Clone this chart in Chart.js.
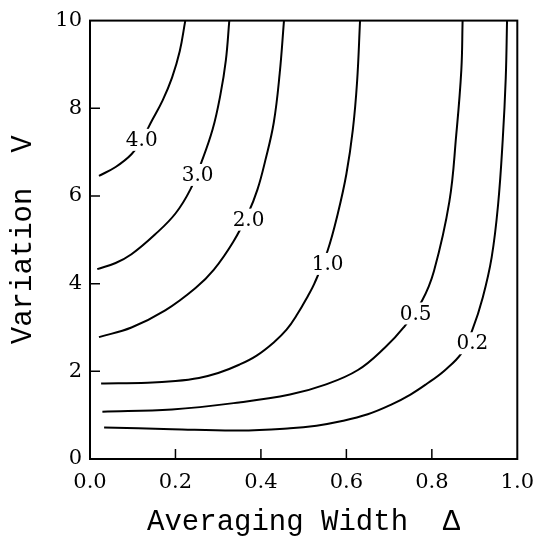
<!DOCTYPE html>
<html>
<head>
<meta charset="utf-8">
<script src="https://cdn.jsdelivr.net/npm/chart.js@4/dist/chart.umd.min.js"></script>
<style>
  html, body { margin: 0; padding: 0; background: #fff; }
  #wrap { width: 545px; height: 540px; }
</style>
</head>
<body>
<div id="wrap"><canvas id="contour"></canvas></div>
<script>
// contour levels and their traced curves (x = averaging width, y = variation)
var levels = ['4.0', '3.0', '2.0', '1.0', '0.5', '0.2'];

var x40 = [0.021, 0.060, 0.097, 0.121, 0.145, 0.170, 0.192, 0.210, 0.223];
var y40 = [6.46, 6.66, 6.95, 7.28, 7.72, 8.18, 8.70, 9.30, 10.0];

var x30 = [0.017, 0.060, 0.097, 0.152, 0.200, 0.235, 0.260, 0.287, 0.305, 0.318, 0.326];
var y30 = [4.33, 4.47, 4.67, 5.12, 5.60, 6.15, 6.75, 7.52, 8.30, 9.10, 10.0];

var x20 = [0.021, 0.097, 0.176, 0.247, 0.290, 0.335, 0.370, 0.392, 0.410, 0.430, 0.444, 0.454];
var y20 = [2.78, 3.00, 3.39, 3.90, 4.32, 4.95, 5.60, 6.15, 6.80, 7.67, 8.80, 10.0];

var x10 = [0.026, 0.135, 0.200, 0.255, 0.300, 0.349, 0.390, 0.430, 0.460, 0.485, 0.510, 0.525, 0.556, 0.580, 0.600, 0.615, 0.625, 0.632];
var y10 = [1.72, 1.74, 1.78, 1.85, 1.96, 2.15, 2.36, 2.66, 2.95, 3.30, 3.72, 4.00, 4.75, 5.60, 6.50, 7.50, 8.60, 10.0];

var x05 = [0.029, 0.192, 0.349, 0.468, 0.549, 0.627, 0.691, 0.734, 0.777, 0.805, 0.841, 0.857, 0.869, 0.872];
var y05 = [1.08, 1.13, 1.29, 1.47, 1.69, 2.03, 2.55, 3.00, 3.61, 4.29, 5.87, 7.38, 8.87, 10.0];

var x02 = [0.033, 0.192, 0.349, 0.468, 0.530, 0.587, 0.650, 0.705, 0.750, 0.786, 0.830, 0.870, 0.895, 0.919, 0.940, 0.955, 0.966, 0.973, 0.976];
var y02 = [0.72, 0.68, 0.65, 0.70, 0.76, 0.86, 1.02, 1.24, 1.47, 1.70, 2.02, 2.42, 2.95, 3.68, 4.60, 5.80, 7.30, 8.70, 10.0];

// where each level label sits on its curve
var labelX = [0.121, 0.252, 0.371, 0.556, 0.762, 0.895];
var labelY = [7.28, 6.48, 5.46, 4.45, 3.32, 2.64];

var xTicks = [0.2, 0.4, 0.6, 0.8];
var yTicks = [2, 4, 6, 8];

var curveX = [x40, x30, x20, x10, x05, x02];
var curveY = [y40, y30, y20, y10, y05, y02];

var SERIF = "'DejaVu Serif', serif";
var MONO = "'Liberation Mono', monospace";

function toPoints(xs, ys) {
    return xs.map(function(x, i) { return { x: x, y: ys[i] }; });
}

var datasets = levels.map(function(lvl, i) {
    return {
        label: lvl,
        data: toPoints(curveX[i], curveY[i]),
        showLine: true,
        borderColor: '#000',
        borderWidth: 2,
        pointRadius: 0,
        tension: 0.4,
        fill: false
    };
});

// frame, inward ticks and level labels
var decor = {
    id: 'decor',
    afterDatasetsDraw: function(chart) {
        var ctx = chart.ctx;
        var a = chart.chartArea;
        var xs = chart.scales.x, ys = chart.scales.y;
        ctx.save();

        ctx.font = '20px ' + SERIF;
        ctx.textAlign = 'center';
        ctx.textBaseline = 'middle';
        levels.forEach(function(lvl, i) {
            var px = xs.getPixelForValue(labelX[i]);
            var py = ys.getPixelForValue(labelY[i]);
            var w = ctx.measureText(lvl).width;
            ctx.fillStyle = '#fff';
            ctx.fillRect(px - w / 2 - 3, py - 11, w + 6, 22);
            ctx.fillStyle = '#000';
            ctx.fillText(lvl, px, py + 1);
        });

        ctx.strokeStyle = '#000';
        ctx.lineWidth = 2;
        ctx.strokeRect(a.left, a.top, a.right - a.left, a.bottom - a.top);
        ctx.lineWidth = 1.5;
        ctx.beginPath();
        xTicks.forEach(function(v) {
            var px = xs.getPixelForValue(v);
            ctx.moveTo(px, a.bottom);
            ctx.lineTo(px, a.bottom - 10);
        });
        yTicks.forEach(function(v) {
            var py = ys.getPixelForValue(v);
            ctx.moveTo(a.left, py);
            ctx.lineTo(a.left + 10, py);
        });
        ctx.stroke();
        ctx.restore();
    }
};

new Chart(document.getElementById('contour'), {
    type: 'scatter',
    data: { datasets: datasets },
    options: {
        responsive: true,
        maintainAspectRatio: false,
        animation: false,
        layout: { padding: { top: 16, right: 16, left: 0, bottom: 0 } },
        plugins: { legend: { display: false }, tooltip: { enabled: false } },
        scales: {
            x: {
                type: 'linear',
                min: 0, max: 1,
                grid: { display: false, drawTicks: false },
                border: { display: false },
                ticks: {
                    stepSize: 0.2,
                    padding: 11,
                    color: '#000',
                    maxRotation: 0,
                    font: { family: SERIF, size: 21 },
                    callback: function(v) { return Number(v).toFixed(1); }
                },
                title: {
                    display: true,
                    text: 'Averaging Width  \u0394',
                    color: '#000',
                    font: { family: MONO, size: 29 },
                    padding: { top: 4, bottom: 0 }
                },
                afterFit: function(scale) { scale.height = 81; }
            },
            y: {
                type: 'linear',
                min: 0, max: 10,
                grid: { display: false, drawTicks: false },
                border: { display: false },
                ticks: {
                    stepSize: 2,
                    padding: 8,
                    color: '#000',
                    font: { family: SERIF, size: 21 }
                },
                title: {
                    display: true,
                    text: 'Variation  V',
                    color: '#000',
                    font: { family: MONO, size: 29 },
                    padding: { top: 6, bottom: 4 }
                },
                afterFit: function(scale) { scale.width = 90; }
            }
        }
    },
    plugins: [decor]
});
</script>
</body>
</html>
